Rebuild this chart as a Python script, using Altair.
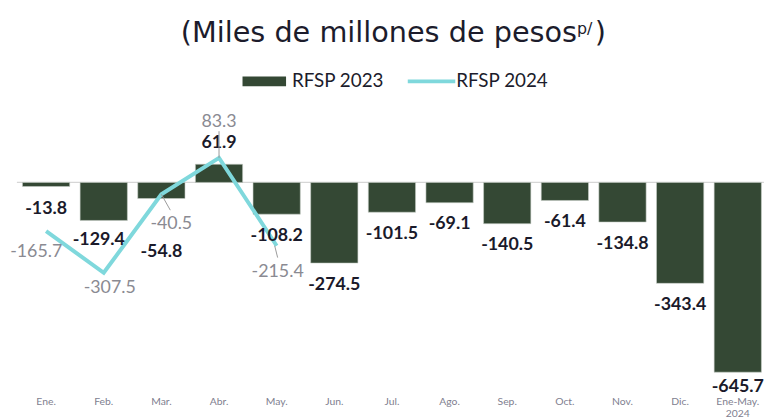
import altair as alt
import pandas as pd

months = ["Ene.", "Feb.", "Mar.", "Abr.", "May.", "Jun.", "Jul.", "Ago.", "Sep.",
          "Oct.", "Nov.", "Dic.", "Ene-May. 2024"]
rfsp_2023 = [-13.8, -129.4, -54.8, 61.9, -108.2, -274.5, -101.5, -69.1, -140.5,
             -61.4, -134.8, -343.4, -645.7]
months_2024 = ["Ene.", "Feb.", "Mar.", "Abr.", "May."]
rfsp_2024 = [-165.7, -307.5, -40.5, 83.3, -215.4]

df23 = pd.DataFrame({"mes": months, "v": rfsp_2023})
df24 = pd.DataFrame({"mes": months_2024, "v": rfsp_2024})

BAR = "#344834"
LINE = "#7fd8dc"
FONT = "Lato"
TFONT = "DejaVu Sans"

xs = alt.X("mes:N", sort=months,
           scale=alt.Scale(domain=months, paddingInner=0.18, paddingOuter=0.045),
           axis=alt.Axis(title=None, labelAngle=0, ticks=False, domain=False,
                         labelFontSize=10.5, labelColor="#80808f", labelFont=FONT,
                         labelPadding=9, labelExpr="split(datum.label, ' ')",
                         labelLineHeight=12))
ys = alt.Y("v:Q", scale=alt.Scale(domain=[-700, 236], nice=False, zero=False), axis=None)

bars = alt.Chart(df23).mark_bar(color=BAR, stroke="#c8d0c8", strokeWidth=0.6).encode(x=xs, y=ys)

zero = alt.Chart(alt.Data(values=[{"z": 0}])).mark_rule(color="#d6d6d6", strokeWidth=1.2).encode(
    y=alt.Y("z:Q", scale=alt.Scale(domain=[-700, 236], nice=False, zero=False), axis=None),
    x=alt.value(-3), x2=alt.value(752))

line = alt.Chart(df24).mark_line(color=LINE, strokeWidth=4).encode(x=xs, y=ys)

layers = [zero, bars, line]

# 2023 labels
off23 = {"Ene.": (0, 23), "Feb.": (-5, 20), "Mar.": (0, 54), "Abr.": (0, -21),
         "Ene-May. 2024": (0, 15)}
for m in months:
    dx, dy = off23.get(m, (0, 22))
    layers.append(
        alt.Chart(df23).transform_filter(alt.datum.mes == m)
        .mark_text(font=FONT, fontSize=18, fontWeight="bold", color="#1a1a2a",
                   baseline="middle", align="center", dx=dx, dy=dy)
        .encode(x=xs, y=ys, text=alt.Text("v:N"))
    )

# leader lines for 2024 labels
leaders = {"Mar.": (0, 0, 9, 16), "Abr.": (0, -27, 0, 0), "May.": (-2, 0, 1, 12)}
for m, (x0, y0, x1, y1) in leaders.items():
    layers.append(
        alt.Chart(df24).transform_filter(alt.datum.mes == m)
        .mark_rule(color="#9a9a9a", strokeWidth=1, xOffset=x0, yOffset=y0,
                   x2Offset=x1, y2Offset=y1)
        .encode(x=xs, x2="mes:N", y=ys, y2="v:Q")
    )

# 2024 labels
off24 = {"Ene.": (-10, 21), "Feb.": (6, 15), "Mar.": (10, 30), "Abr.": (0, -36), "May.": (1, 27)}
for m in months_2024:
    dx, dy = off24[m]
    layers.append(
        alt.Chart(df24).transform_filter(alt.datum.mes == m)
        .mark_text(font=FONT, fontSize=18, color="#8a8a92",
                   baseline="middle", align="center", dx=dx, dy=dy)
        .encode(x=xs, y=ys, text=alt.Text("v:N"))
    )

one = alt.Data(values=[{"a": 1}])
# title
layers.append(alt.Chart(one).mark_text(font=TFONT, fontSize=29, color="#1c1c2c", align="right",
                                        baseline="alphabetic", text="(Miles de millones de pesos")
              .encode(x=alt.value(563), y=alt.value(-72)))
layers.append(alt.Chart(one).mark_text(font=TFONT, fontSize=16, color="#1c1c2c", align="left",
                                        baseline="alphabetic", text="p/")
              .encode(x=alt.value(563), y=alt.value(-80)))
layers.append(alt.Chart(one).mark_text(font=TFONT, fontSize=29, color="#1c1c2c", align="left",
                                        baseline="alphabetic", text=")")
              .encode(x=alt.value(581), y=alt.value(-72)))

# legend
layers.append(alt.Chart(one).mark_rect(color=BAR)
              .encode(x=alt.value(225), x2=alt.value(269), y=alt.value(-37), y2=alt.value(-27)))
layers.append(alt.Chart(one).mark_text(font=FONT, fontSize=19, color="#1c1c2c", align="left",
                                        baseline="middle", text="RFSP 2023")
              .encode(x=alt.value(275), y=alt.value(-32)))
layers.append(alt.Chart(one).mark_rule(color=LINE, strokeWidth=4)
              .encode(x=alt.value(392), x2=alt.value(440), y=alt.value(-32)))
layers.append(alt.Chart(one).mark_text(font=FONT, fontSize=19, color="#1c1c2c", align="left",
                                        baseline="middle", text="RFSP 2024")
              .encode(x=alt.value(441), y=alt.value(-32)))

chart = alt.layer(*layers).properties(
    width=752, height=278,
    autosize=alt.AutoSizeParams(type="none"),
    padding={"left": 12, "top": 104, "right": 0, "bottom": 28},
).configure_view(stroke=None)

chart.save("out.html", embed_options={"renderer": "svg", "actions": False})
